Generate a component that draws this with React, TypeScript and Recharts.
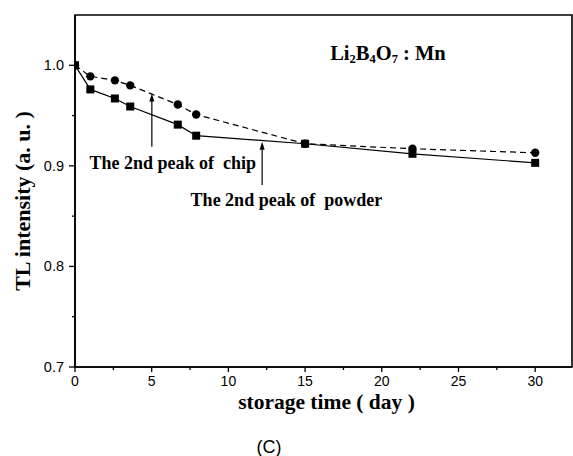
import React from 'react';
import { ComposedChart, Line, XAxis, YAxis, ReferenceArea, ReferenceLine, ReferenceDot, Label } from 'recharts';

// storage days and normalised TL intensity
const days = [0, 1, 2.6, 3.6, 6.7, 7.9, 15, 22, 30];
const chip = [1.0, 0.989, 0.985, 0.98, 0.961, 0.951, 0.922, 0.917, 0.913];
const powder = [1.0, 0.976, 0.967, 0.959, 0.941, 0.93, 0.922, 0.912, 0.903];

const xTicks = [0, 2.5, 5, 7.5, 10, 12.5, 15, 17.5, 20, 22.5, 25, 27.5, 30];
const xLabels = [0, 5, 10, 15, 20, 25, 30];
const yTicks = [0.7, 0.75, 0.8, 0.85, 0.9, 0.95, 1.0];
const yLabels = [0.7, 0.8, 0.9, 1.0];

const X_MAX = 32.4;
const Y_MIN = 0.7;
const Y_MAX = 1.05;

const data = days.map((d, i) => ({ day: d, chip: chip[i], powder: powder[i] }));

const serif = '"Liberation Serif", "Times New Roman", serif';
const sans = '"Liberation Sans", Arial, sans-serif';

const XTick = (props: any) => {
  const { x, y, payload } = props;
  const major = xLabels.includes(payload.value);
  return (
    <g>
      <line x1={x} y1={y} x2={x} y2={y + (major ? 5 : 3)} stroke="#000" strokeWidth={1.3} />
      {major && (
        <text x={x} y={y + 19} textAnchor="middle" fontFamily={sans} fontSize={14} fill="#000">
          {payload.value}
        </text>
      )}
    </g>
  );
};

const YTick = (props: any) => {
  const { x, y, payload } = props;
  const major = yLabels.includes(payload.value);
  return (
    <g>
      <line x1={x} y1={y} x2={x - (major ? 6 : 3)} y2={y} stroke="#000" strokeWidth={1.3} />
      {major && (
        <text x={x - 11} y={y + 5} textAnchor="end" fontFamily={sans} fontSize={14.5} fill="#000">
          {payload.value.toFixed(1)}
        </text>
      )}
    </g>
  );
};

const SquareDot = (props: any) => {
  const { cx, cy } = props;
  return <rect x={cx - 4} y={cy - 4} width={8} height={8} fill="#000" />;
};

const CircleDot = (props: any) => {
  const { cx, cy } = props;
  return <circle cx={cx} cy={cy} r={4.2} fill="#000" />;
};

const Arrow = (props: any) => {
  const { x1, y1, x2, y2 } = props;
  return (
    <g>
      <line x1={x1} y1={y1} x2={x2} y2={y2 + 4} stroke="#000" strokeWidth={1.2} />
      <path d={`M${x2},${y2} L${x2 - 2.5},${y2 + 8} L${x2 + 2.5},${y2 + 8} Z`} fill="#000" />
    </g>
  );
};

const note = (text: string) => (props: any) => (
  <text x={props.cx} y={props.cy} textAnchor="middle" dominantBaseline="central" fontFamily={serif} fontWeight="bold" fontSize={18} fill="#000" style={{ whiteSpace: 'pre' }}>
    {text}
  </text>
);

const TitleShape = (props: any) => (
  <text x={props.cx} y={props.cy} textAnchor="middle" dominantBaseline="central" fontFamily={serif} fontWeight="bold" fontSize={20.5} fill="#000">
    Li<tspan fontSize={12.5} dy={6}>2</tspan>
    <tspan dy={-6}>B</tspan><tspan fontSize={12.5} dy={6}>4</tspan>
    <tspan dy={-6}>O</tspan><tspan fontSize={12.5} dy={6}>7</tspan>
    <tspan dy={-6}> : Mn</tspan>
  </text>
);

const XTitle = (props: any) => {
  const { x, y, width } = props.viewBox;
  return (
    <g>
      <text x={x + width / 2 + 3} y={y + 42} textAnchor="middle" fontFamily={serif} fontWeight="bold" fontSize={21.5} fill="#000">
        storage time ( day )
      </text>
      <text x={269} y={y + 86} textAnchor="middle" fontFamily={sans} fontSize={18} fill="#000">
        (C)
      </text>
    </g>
  );
};

const YTitle = (props: any) => {
  const { x, y, height } = props.viewBox;
  const cx = x + 22;
  const cy = y + height / 2 + 10;
  return (
    <text x={cx} y={cy} transform={`rotate(-90 ${cx} ${cy})`} textAnchor="middle" dominantBaseline="central" fontFamily={serif} fontWeight="bold" fontSize={22} fill="#000">
      TL intensity (a. u. )
    </text>
  );
};

export default function App() {
  return (
    <div style={{ position: 'absolute', left: 0, top: 0, width: 573, height: 456, background: '#fff' }}>
      <ComposedChart width={573} height={456} data={data} margin={{ top: 15, right: 1, bottom: 0, left: 0 }}>
        <XAxis
          dataKey="day"
          type="number"
          domain={[0, X_MAX]}
          ticks={xTicks}
          interval={0}
          tickSize={0}
          tickMargin={0}
          tickLine={false}
          tick={(p: any) => <XTick {...p} />}
          axisLine={{ stroke: '#000', strokeWidth: 1.6 }}
          height={89}
          allowDataOverflow
        >
          <Label content={XTitle} />
        </XAxis>
        <YAxis
          type="number"
          domain={[Y_MIN, Y_MAX]}
          ticks={yTicks}
          interval={0}
          tickSize={0}
          tickMargin={0}
          tickLine={false}
          tick={(p: any) => <YTick {...p} />}
          axisLine={{ stroke: '#000', strokeWidth: 1.6 }}
          width={75}
          allowDataOverflow
        >
          <Label content={YTitle} />
        </YAxis>
        <ReferenceArea x1={0} x2={X_MAX} y1={Y_MIN} y2={Y_MAX} fill="none" stroke="#000" strokeWidth={1.6} fillOpacity={0} ifOverflow="visible" />
        <Line
          dataKey="chip"
          stroke="#000"
          strokeWidth={1.2}
          strokeDasharray="6 4"
          dot={(p: any) => <CircleDot key={`c${p.index}`} {...p} />}
          activeDot={false}
          isAnimationActive={false}
        />
        <Line
          dataKey="powder"
          stroke="#000"
          strokeWidth={1.2}
          dot={(p: any) => <SquareDot key={`s${p.index}`} {...p} />}
          activeDot={false}
          isAnimationActive={false}
        />
        <ReferenceLine segment={[{ x: 5.01, y: 0.919 }, { x: 5.01, y: 0.972 }]} shape={Arrow} ifOverflow="visible" />
        <ReferenceLine segment={[{ x: 12.2, y: 0.881 }, { x: 12.2, y: 0.924 }]} shape={Arrow} ifOverflow="visible" />
        <ReferenceDot x={6.37} y={0.9025} r={0} shape={note('The 2nd peak of  chip')} ifOverflow="visible" />
        <ReferenceDot x={13.78} y={0.866} r={0} shape={note('The 2nd peak of  powder')} ifOverflow="visible" />
        <ReferenceDot x={20.4} y={1.012} r={0} shape={TitleShape} ifOverflow="visible" />
      </ComposedChart>
    </div>
  );
}
